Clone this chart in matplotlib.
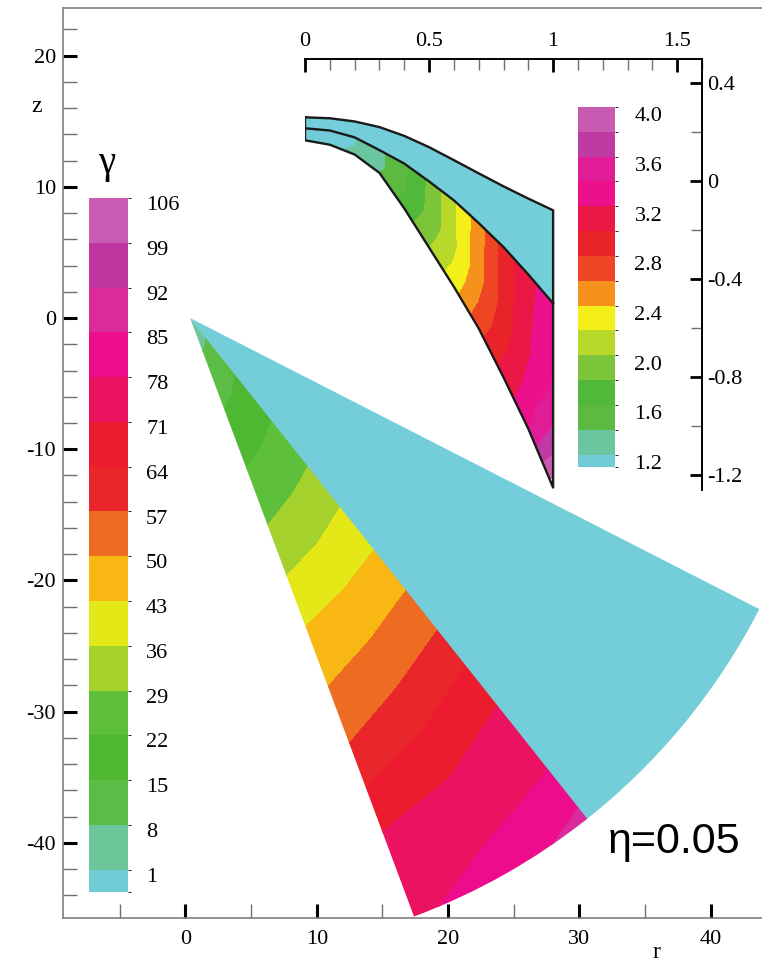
import numpy as np
import matplotlib
matplotlib.use('Agg')
import matplotlib.pyplot as plt
from matplotlib.colors import ListedColormap, BoundaryNorm
from matplotlib.cm import ScalarMappable
from matplotlib.patches import Wedge, Polygon
from matplotlib.ticker import MultipleLocator

plt.rcParams['font.family'] = ['Liberation Serif', 'DejaVu Serif']
plt.rcParams['axes.unicode_minus'] = False

W, H = 762, 967

# ---------------- main fan, eta = 0.05 ----------------
apex_r, apex_z = 0.35, 0.0
fan_radius = 48.7
theta_left = -69.5    # outer edge of the fan (deg)
theta_split = -51.6   # edge of the disturbed region
theta_top = -27.1     # upper edge of the fan
ray_angles = [theta_left, -60.5, theta_split]
dist = [0, 3, 6, 9, 12, 15, 18, 21, 24, 27, 30, 33, 36, 39, 42, 45, 50]
gamma_left = [2, 8.6, 12.7, 17.2, 21.6, 26.0, 30.8, 36.0, 41.3, 45.8, 50.0, 54.3, 59.3, 65.6, 71.3, 74.0, 78.0]
gamma_mid = [2, 9.7, 14.2, 18.8, 23.3, 28.0, 33.0, 38.2, 43.4, 48.3, 53.2, 58.4, 63.9, 69.3, 73.5, 76.7, 84.0]
gamma_split = [2, 11.1, 15.8, 20.4, 25.1, 29.9, 35.3, 40.3, 45.5, 50.9, 56.3, 62.4, 68.5, 72.9, 75.7, 79.4, 90.0]

gamma_levels = [1, 8, 15, 22, 29, 36, 43, 50, 57, 64, 71, 78, 85, 92, 99, 106]
gamma_colors = ['#72CCD8', '#6CC699', '#5BBD45', '#4FB833', '#5DBF3A', '#A5D12C',
                '#E3E816', '#F8B713', '#EE6B22', '#E9262A', '#EC1C2E', '#EC1262',
                '#EC0C8C', '#DA2A9B', '#BF35A0', '#CA5CB3']

# ---------------- inset ----------------
ins_r = [0, 0.1, 0.2, 0.3, 0.4, 0.5, 0.6, 0.7, 0.8, 0.9, 1.0]
ins_top = [0.262, 0.258, 0.245, 0.222, 0.186, 0.140, 0.087, 0.033, -0.020, -0.070, -0.118]
ins_mid = [0.217, 0.208, 0.180, 0.128, 0.073, 0.0, -0.077, -0.17, -0.268, -0.38, -0.498]
ins_bot = [0.168, 0.150, 0.110, 0.035, -0.11, -0.27, -0.43, -0.60, -0.80, -1.01, -1.25]
ins_t = [0, 0.5, 0.75, 1]
ins_gamma = [
    [1.0, 1.10, 1.18, 1.35, 1.55, 1.83, 2.17, 2.50, 2.87, 3.15, 3.30],
    [1.0, 1.11, 1.20, 1.34, 1.57, 1.85, 2.15, 2.52, 2.88, 3.18, 3.43],
    [1.0, 1.115, 1.23, 1.37, 1.62, 1.92, 2.22, 2.60, 2.96, 3.26, 3.68],
    [1.0, 1.12, 1.26, 1.40, 1.69, 2.00, 2.32, 2.73, 3.08, 3.36, 4.10],
]
ins_levels = [1.2, 1.4, 1.6, 1.8, 2.0, 2.2, 2.4, 2.6, 2.8, 3.0, 3.2, 3.4, 3.6, 3.8, 4.0]
ins_colors = ['#72CCD8', '#6BC6A0', '#5CBA42', '#52B83A', '#7CC43A', '#B8D82A',
              '#F4EE1A', '#F6911B', '#EE4524', '#E82428', '#EB1846', '#EC108A',
              '#E01C96', '#BF3AA2', '#C85AB2']

cyan = '#74CED9'


def fig_rect(x0, y0, x1, y1):
    return [x0 / W, 1 - y1 / H, (x1 - x0) / W, (y1 - y0) / H]


fig = plt.figure(figsize=(W / 100, H / 100), dpi=100)

# ---------------- main axes ----------------
ax = fig.add_axes(fig_rect(63, 8, 762, 918))
ax.set_xlim(-9.33, 43.91)
ax.set_ylim(-45.73, 23.63)

ax.add_patch(Wedge((apex_r, apex_z), fan_radius, theta_split - 0.4, theta_top,
                   facecolor=cyan, edgecolor='none', zorder=1))

A, D = np.meshgrid(np.radians(ray_angles), dist, indexing='ij')
X = apex_r + D * np.cos(A)
Z = apex_z + D * np.sin(A)
G = np.array([gamma_left, gamma_mid, gamma_split])
cs = ax.contourf(X, Z, G, levels=gamma_levels, colors=gamma_colors[1:], zorder=2)
clip = Wedge((apex_r, apex_z), fan_radius, theta_left, theta_split, transform=ax.transData)
cs.set_clip_path(clip)

for side in ['left', 'bottom', 'top']:
    ax.spines[side].set_color('#808080')
    ax.spines[side].set_linewidth(1.2)
ax.spines['right'].set_visible(False)
ax.xaxis.set_major_locator(MultipleLocator(10))
ax.xaxis.set_minor_locator(MultipleLocator(5))
ax.yaxis.set_major_locator(MultipleLocator(10))
ax.yaxis.set_minor_locator(MultipleLocator(2))
ax.tick_params(which='major', direction='in', length=10, width=2.2, color='black',
               labelsize=16, top=False, right=False)
ax.tick_params(which='minor', direction='in', length=10, width=1, color='#707070',
               top=False, right=False)
ax.tick_params(axis='x', which='major', pad=9)
ax.tick_params(axis='y', which='major', pad=5)

fig.text(37 / W, 1 - 107 / H, 'z', fontsize=17, ha='center', va='center')
fig.text(656 / W, 1 - 952 / H, 'r', fontsize=17, ha='center', va='center')
fig.text(608 / W, 1 - 842 / H, 'η=0.05', fontsize=31, ha='left', va='center',
         family=['Liberation Sans', 'DejaVu Sans'])

# ---------------- main colour bar ----------------
cax = fig.add_axes(fig_rect(89, 198, 128, 892))
cb = fig.colorbar(ScalarMappable(norm=BoundaryNorm([-2.5] + gamma_levels, len(gamma_colors)),
                                 cmap=ListedColormap(gamma_colors)),
                  cax=cax, spacing='proportional',
                  ticks=[v - 0.8 for v in gamma_levels])
cb.outline.set_visible(False)
cb.ax.set_yticklabels([str(v) for v in gamma_levels])
cb.ax.tick_params(length=0, pad=13, labelsize=16)
fig.text(107 / W, 1 - 163 / H, 'γ', fontsize=28, ha='center', va='center')

# ---------------- inset ----------------
ax2 = fig.add_axes(fig_rect(305, 59, 702, 490))
ax2.set_facecolor('none')
ax2.set_xlim(0, 1.6)
ax2.set_ylim(-1.26, 0.5)

ax2.add_patch(Polygon(list(zip(ins_r, ins_top)) + list(zip(ins_r[::-1], ins_mid[::-1])),
                      closed=True, facecolor=cyan, edgecolor='none', zorder=1))

t = np.array(ins_t)[:, None]
R2 = np.tile(ins_r, (len(ins_t), 1))
Z2 = np.array(ins_mid)[None, :] + t * (np.array(ins_bot) - np.array(ins_mid))[None, :]
ax2.contourf(R2, Z2, np.array(ins_gamma), levels=[0.5] + ins_levels,
             colors=ins_colors, zorder=2)

outline_r = ins_r + [ins_r[-1]] + ins_r[::-1] + [ins_r[0]]
outline_z = ins_top + [ins_bot[-1]] + ins_bot[::-1] + [ins_top[0]]
ax2.plot(outline_r, outline_z, color='#1a1a1a', lw=1.7, zorder=3)
ax2.plot(ins_r, ins_mid, color='#1a1a1a', lw=1.7, zorder=3)

ax2.spines['left'].set_visible(False)
ax2.spines['bottom'].set_visible(False)
for side in ['top', 'right']:
    ax2.spines[side].set_color('black')
    ax2.spines[side].set_linewidth(1.4)
ax2.xaxis.tick_top()
ax2.yaxis.tick_right()
ax2.set_xticks([0, 0.5, 1, 1.5])
ax2.set_xticklabels(['0', '0.5', '1', '1.5'])
ax2.xaxis.set_minor_locator(MultipleLocator(0.1))
ax2.set_yticks([0.4, 0, -0.4, -0.8, -1.2])
ax2.set_yticklabels(['0.4', '0', '-0.4', '-0.8', '-1.2'])
ax2.yaxis.set_minor_locator(MultipleLocator(0.2))
ax2.tick_params(which='major', direction='in', length=9, width=2, color='black',
                labelsize=16)
ax2.tick_params(which='minor', direction='in', length=8, width=1, color='#707070')
ax2.tick_params(axis='x', which='major', pad=6)
ax2.tick_params(axis='y', which='major', pad=4)

# ---------------- inset colour bar ----------------
cax2 = fig.add_axes(fig_rect(578, 107, 615, 467))
cb2 = fig.colorbar(ScalarMappable(norm=BoundaryNorm([1.1] + ins_levels, len(ins_colors)),
                                  cmap=ListedColormap(ins_colors)),
                   cax=cax2, spacing='proportional',
                   ticks=[v - 0.06 for v in ins_levels[::2]])
cb2.outline.set_visible(False)
cb2.ax.set_yticklabels(['%.1f' % v for v in ins_levels[::2]])
cb2.ax.tick_params(length=0, pad=14, labelsize=16)

fig.savefig('out.png', dpi=100)
